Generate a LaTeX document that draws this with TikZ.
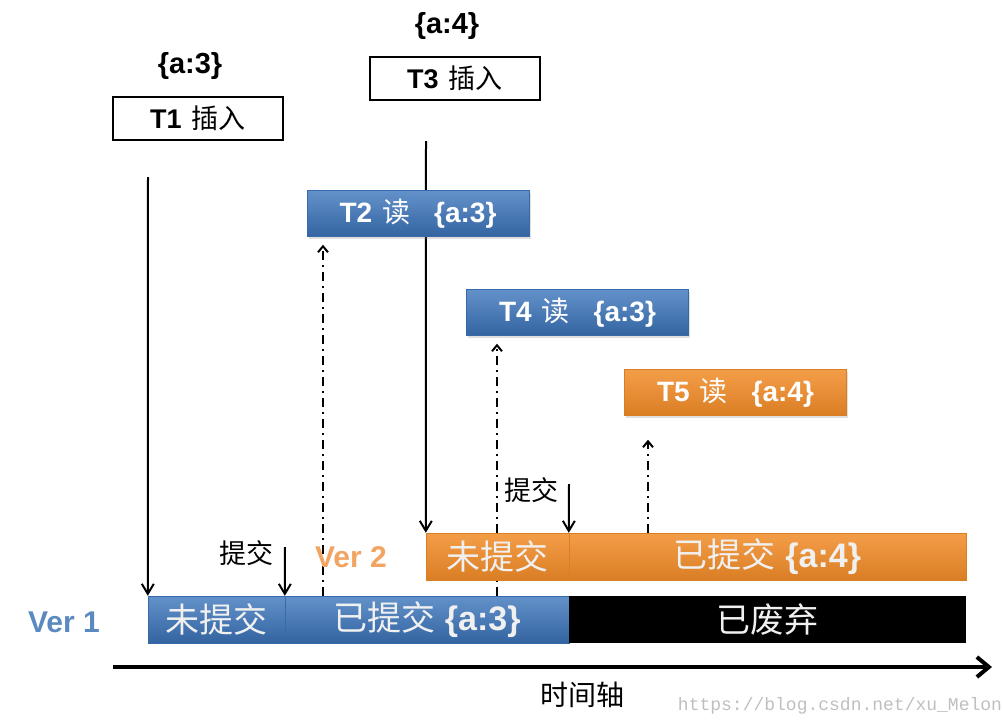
\documentclass[tikz,border=0pt]{standalone}
\usepackage{fontspec}
\setmainfont{Liberation Sans}
\newfontfamily\cjk{Noto Sans CJK SC}
\newfontfamily\wmfont{Liberation Mono}
\usetikzlibrary{arrows.meta,shadows}
\definecolor{verblue}{HTML}{3C76BD}
\definecolor{verorange}{HTML}{F28C28}
\definecolor{lblblue}{HTML}{5A8AC0}
\definecolor{lblorange}{HTML}{F2A462}
\pgfdeclarelayer{back}
\pgfsetlayers{back,main}
\newcommand{\fs}[1]{\fontsize{#1}{#1}\selectfont}

\tikzset{
  insbox/.style={draw, line width=1.6pt, fill=white, minimum width=170pt, minimum height=43pt, font=\fs{27}},
  readbox/.style={minimum width=222pt, minimum height=46pt, text=white, font=\fs{28},
    drop shadow={shadow xshift=1.5pt, shadow yshift=-2pt, opacity=0.25}},
  blue/.style={top color=verblue!80!white, bottom color=verblue!85!black, draw=verblue!90!black, line width=0.4pt},
  orange/.style={top color=verorange!85!white, bottom color=verorange!90!black, draw=verorange!90!black, line width=0.4pt},
  seg/.style={minimum height=47pt, text=white!94!black, font=\fs{34}, inner sep=0pt},
  solidarr/.style={line width=2pt, -{Straight Barb[length=10pt,width=12pt]}},
  readarr/.style={line width=2pt, dash pattern=on 9pt off 5pt on 2pt off 5pt, -{Straight Barb[length=6pt,width=10pt]}},
  verlbl/.style={font=\fs{30}\bfseries},
}

\begin{document}
\begin{tikzpicture}[x=1pt, y=-1pt]
  \useasboundingbox (0,0) rectangle (1002,721);

  % versions of record a
  \node[seg, blue, minimum width=137pt] (v1a) at (216.5,619.5) {\cjk 未提交};
  \node[seg, blue, minimum width=284pt] (v1b) at (427,619.5) {{\cjk 已提交} {\bfseries\{a:3\}}};
  \node[seg, fill=black, minimum width=397pt] (v1c) at (767.5,619.5) {\cjk 已废弃};
  \node[seg, orange, minimum width=143pt] (v2a) at (497.5,556.5) {\cjk 未提交};
  \node[seg, orange, minimum width=397pt] (v2b) at (767.5,556.5) {{\cjk 已提交} {\bfseries\{a:4\}}};
  \node[verlbl, text=lblblue] (ver1) at (64,622) {Ver 1};
  \node[verlbl, text=lblorange] (ver2) at (351,557) {Ver 2};

  % transactions
  \node[insbox] (t1) at (198,118.5) {{\bfseries T1}\hspace{10pt}{\cjk 插入}};
  \node[font=\fs{29}\bfseries] (t1v) at (190,66) {\{a:3\}};
  \node[insbox] (t3) at (455,78.5) {{\bfseries T3}\hspace{10pt}{\cjk 插入}};
  \node[font=\fs{29}\bfseries] (t3v) at (447,26) {\{a:4\}};
  \node[readbox, blue] (t2) at (418,213.5) {{\bfseries T2}\hspace{10pt}{\cjk 读}\hspace{24pt}{\bfseries\{a:3\}}};
  \node[readbox, blue] (t4) at (577.5,312.5) {{\bfseries T4}\hspace{10pt}{\cjk 读}\hspace{24pt}{\bfseries\{a:3\}}};
  \node[readbox, orange] (t5) at (735.5,392.5) {{\bfseries T5}\hspace{10pt}{\cjk 读}\hspace{24pt}{\bfseries\{a:4\}}};

  \node[font=\fs{27}\cjk] (c1) at (246,553) {提交};
  \node[font=\fs{27}\cjk] (c2) at (531,490) {提交};

  \coordinate (s1) at (148,177);
  \coordinate (s3) at (426,141);
  \coordinate (k1) at (285,547);
  \coordinate (k2) at (569,484);
  \coordinate (r2) at (323,596);
  \coordinate (r4) at (497,596);
  \coordinate (r5) at (648,533);

  \begin{pgfonlayer}{back}
    \draw[solidarr] (s1) -- (v1a.north west);
    \draw[solidarr] (s3) -- (v2a.north west);
    \draw[solidarr] (k1) -- (v1b.north west);
    \draw[solidarr] (k2) -- (v2b.north west);
    \draw[readarr] (r2) -- ([yshift=-8pt]r2 |- t2.south);
    \draw[readarr] (r4) -- ([yshift=-8pt]r4 |- t4.south);
    \draw[readarr] (r5) -- ([yshift=-24pt]r5 |- t5.south);
  \end{pgfonlayer}

  % time axis
  \coordinate (ax0) at (113,667);
  \coordinate (ax1) at (992,667);
  \draw[line width=4pt, -{Straight Barb[length=12pt,width=20pt]}] (ax0) -- (ax1);
  \node[font=\fs{28}\cjk] (axl) at (582,695) {时间轴};
  \node[font=\fs{18}\wmfont, text=black!25] (wm) at (840,706) {https://blog.csdn.net/xu\_Melon};
\end{tikzpicture}
\end{document}
